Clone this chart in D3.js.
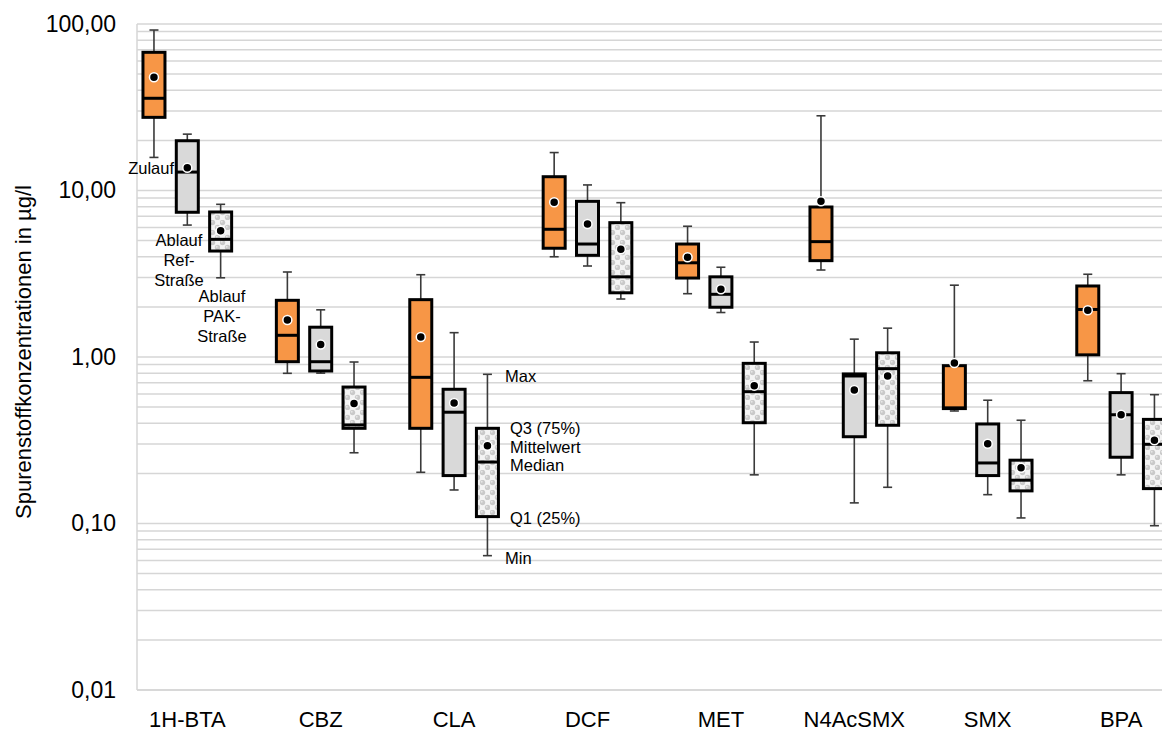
<!DOCTYPE html>
<html>
<head>
<meta charset="utf-8">
<script src="https://cdn.jsdelivr.net/npm/d3@7"></script>
<style>
  html, body { margin: 0; padding: 0; background: #fff; }
  svg { display: block; font-family: "Liberation Sans", Arial, sans-serif; }
</style>
</head>
<body>
<svg id="chart" width="1162" height="731"></svg>
<script>
// ---- Data ----
const categories = ["1H-BTA", "CBZ", "CLA", "DCF", "MET", "N4AcSMX", "SMX", "BPA"];
const seriesNames = ["Zulauf", "Ablauf Ref-Straße", "Ablauf PAK-Straße"];
const yTickValues = [100, 10, 1, 0.1, 0.01];
const yTickLabels = ["100,00", "10,00", "1,00", "0,10", "0,01"];
const yTitle = "Spurenstoffkonzentrationen in µg/l";

// Zulauf (orange)
const zulaufMax    = [92,   3.24, 3.12,  16.9, 6.10, 28.1, 2.70,  3.14];
const zulaufQ3     = [67.6, 2.19, 2.21,  12.1, 4.77, 7.96, 0.887, 2.67];
const zulaufMedian = [35.8, 1.35, 0.755, 5.85, 3.68, 4.93, 0.495, 1.93];
const zulaufQ1     = [27.5, 0.937,0.373, 4.50, 2.98, 3.79, 0.49,  1.03];
const zulaufMin    = [15.8, 0.798,0.203, 4.00, 2.40, 3.33, 0.474, 0.72];
const zulaufMean   = [47.9, 1.67, 1.32,  8.50, 3.97, 8.61, 0.92,  1.91];

// Ablauf Ref-Straße (grey)
const refMax    = [21.8, 1.92,  1.40,  10.8, 3.46, 1.28,  0.55,  0.794];
const refQ3     = [19.9, 1.51,  0.64,  8.61, 3.03, 0.791, 0.396, 0.611];
const refMedian = [12.9, 0.937, 0.466, 4.77, 2.38, 0.769, 0.231, 0.450];
const refQ1     = [7.4,  0.824, 0.194, 4.08, 1.99, 0.332, 0.194, 0.250];
const refMin    = [6.2,  0.80,  0.159, 3.52, 1.85, 0.133, 0.149, 0.196];
const refMean   = [13.7, 1.19,  0.53,  6.29, 2.55, 0.634, 0.301, 0.45];

// Ablauf PAK-Straße (patterned)
const pakMax    = [8.26, 0.933, 0.787,  8.45, 1.23,  1.49,  0.417, 0.594];
const pakQ3     = [7.43, 0.66,  0.373,  6.41, 0.916, 1.06,  0.240, 0.422];
const pakMedian = [5.09, 0.391, 0.234,  3.03, 0.619, 0.851, 0.182, 0.299];
const pakQ1     = [4.33, 0.373, 0.110,  2.43, 0.403, 0.389, 0.157, 0.162];
const pakMin    = [2.99, 0.266, 0.0641, 2.23, 0.196, 0.165, 0.108, 0.097];
const pakMean   = [5.74, 0.525, 0.293,  4.43, 0.673, 0.769, 0.216, 0.316];

// ---- Build ----
const seriesStats = [
  {name: seriesNames[0], max: zulaufMax, q3: zulaufQ3, med: zulaufMedian, q1: zulaufQ1, min: zulaufMin, mean: zulaufMean, fill: "#f79646"},
  {name: seriesNames[1], max: refMax, q3: refQ3, med: refMedian, q1: refQ1, min: refMin, mean: refMean, fill: "#d9d9d9"},
  {name: seriesNames[2], max: pakMax, q3: pakQ3, med: pakMedian, q1: pakQ1, min: pakMin, mean: pakMean, fill: "url(#bubbles)"}
];

const svg = d3.select("#chart");
const plotLeft = 137, plotRight = 1162, plotTop = 24, plotBottom = 690;

const y = d3.scaleLog().domain([0.01, 100]).range([plotBottom, plotTop]);
const x = d3.scaleBand().domain(categories).range([120.6, 1187.8]).paddingInner(0).paddingOuter(0);
const xs = d3.scaleBand().domain(seriesNames).range([-50, 50]);
const boxW = 22, capW = 9;

// pattern
const defs = svg.append("defs");
const pat = defs.append("pattern").attr("id", "bubbles").attr("patternUnits", "userSpaceOnUse")
  .attr("width", 10).attr("height", 10);
pat.append("rect").attr("width", 10).attr("height", 10).attr("fill", "#f4f4f4");
[[2.5, 2.5], [7.5, 7.5]].forEach(([cx, cy]) => {
  pat.append("circle").attr("cx", cx).attr("cy", cy).attr("r", 2.7).attr("fill", "#c9c9c9");
  pat.append("circle").attr("cx", cx - 0.8).attr("cy", cy - 0.8).attr("r", 1).attr("fill", "#e6e6e6");
});

// gridlines
const gridVals = y.ticks();
svg.append("g").selectAll("line").data(gridVals).join("line")
  .attr("x1", plotLeft).attr("x2", plotRight)
  .attr("y1", d => y(d)).attr("y2", d => y(d))
  .attr("stroke", "#d6d6d6").attr("stroke-width", 1.5);

// axis lines
svg.append("line").attr("x1", plotLeft).attr("x2", plotLeft).attr("y1", plotTop).attr("y2", plotBottom)
  .attr("stroke", "#d6d6d6").attr("stroke-width", 1.5);
svg.append("line").attr("x1", plotLeft).attr("x2", plotRight).attr("y1", plotBottom).attr("y2", plotBottom)
  .attr("stroke", "#d6d6d6").attr("stroke-width", 1.5);

// y axis
const yAxis = d3.axisLeft(y).tickValues(yTickValues).tickSize(0).tickPadding(21)
  .tickFormat((d, i) => yTickLabels[i]);
const gy = svg.append("g").attr("transform", `translate(${plotLeft},0)`).call(yAxis);
gy.select(".domain").remove();
gy.selectAll("text").attr("font-size", 23).attr("fill", "#000").attr("font-family", "Liberation Sans, Arial, sans-serif");

// x axis
const xAxis = d3.axisBottom(x).tickSize(0).tickPadding(21);
const gx = svg.append("g").attr("transform", `translate(0,${plotBottom})`).call(xAxis);
gx.select(".domain").remove();
gx.selectAll("text").attr("font-size", 22).attr("fill", "#000").attr("font-family", "Liberation Sans, Arial, sans-serif");

// y title
svg.append("text").attr("transform", `translate(31,${352}) rotate(-90)`)
  .attr("text-anchor", "middle").attr("font-size", 22).attr("fill", "#000").text(yTitle);

// boxes
const boxData = [];
seriesStats.forEach(s => {
  categories.forEach((c, i) => {
    boxData.push({s, c, i, cx: x(c) + x.bandwidth() / 2 + xs(s.name) + xs.bandwidth() / 2});
  });
});

const gBoxes = svg.append("g");
const bg = gBoxes.selectAll("g").data(boxData).join("g");
// whisker
bg.append("line").attr("x1", d => d.cx).attr("x2", d => d.cx)
  .attr("y1", d => y(d.s.max[d.i])).attr("y2", d => y(d.s.min[d.i]))
  .attr("stroke", "#3a3a3a").attr("stroke-width", 1.6);
bg.append("line").attr("x1", d => d.cx - capW / 2).attr("x2", d => d.cx + capW / 2)
  .attr("y1", d => y(d.s.max[d.i])).attr("y2", d => y(d.s.max[d.i]))
  .attr("stroke", "#3a3a3a").attr("stroke-width", 1.6);
bg.append("line").attr("x1", d => d.cx - capW / 2).attr("x2", d => d.cx + capW / 2)
  .attr("y1", d => y(d.s.min[d.i])).attr("y2", d => y(d.s.min[d.i]))
  .attr("stroke", "#3a3a3a").attr("stroke-width", 1.6);
// box
bg.append("rect").attr("x", d => d.cx - boxW / 2).attr("width", boxW)
  .attr("y", d => y(d.s.q3[d.i])).attr("height", d => y(d.s.q1[d.i]) - y(d.s.q3[d.i]))
  .attr("fill", d => d.s.fill).attr("stroke", "#000").attr("stroke-width", 3);
// median
bg.append("line").attr("x1", d => d.cx - boxW / 2).attr("x2", d => d.cx + boxW / 2)
  .attr("y1", d => y(d.s.med[d.i])).attr("y2", d => y(d.s.med[d.i]))
  .attr("stroke", "#000").attr("stroke-width", 3);
// mean
bg.append("circle").attr("cx", d => d.cx).attr("cy", d => y(d.s.mean[d.i]))
  .attr("r", 4.5).attr("fill", "#000").attr("stroke", "#fff").attr("stroke-width", 1.5);

// annotations
const ann = svg.append("g").attr("font-size", 16.5).attr("fill", "#000");
function label(lines, xx, yy, anchor) {
  const t = ann.append("text").attr("text-anchor", anchor).attr("x", xx).attr("y", yy);
  lines.forEach((l, k) => t.append("tspan").attr("x", xx).attr("y", yy + k * 20).attr("dy", "0.35em").text(l));
}
label(["Zulauf"], 174, 168, "end");
label(["Ablauf", "Ref-", "Straße"], 179, 240, "middle");
label(["Ablauf", "PAK-", "Straße"], 222, 296, "middle");
label(["Max"], 505, 376, "start");
label(["Q3 (75%)"], 510, 428, "start");
label(["Mittelwert"], 510, 447, "start");
label(["Median"], 510, 465, "start");
label(["Q1 (25%)"], 510, 518, "start");
label(["Min"], 505, 558, "start");
</script>
</body>
</html>
